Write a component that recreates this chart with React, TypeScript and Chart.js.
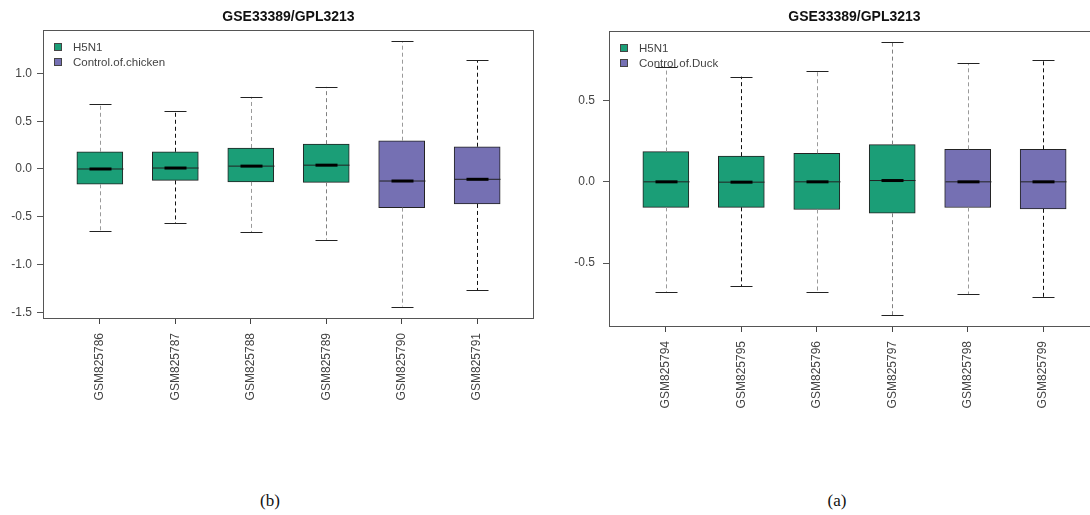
import React, { useEffect, useRef } from 'react';
import { Chart, registerables } from 'chart.js';

Chart.register(...registerables);

// ---------- data ----------
const TITLE = 'GSE33389/GPL3213';

const CHICKEN_SAMPLES = ['GSM825786', 'GSM825787', 'GSM825788', 'GSM825789', 'GSM825790', 'GSM825791'];
const CHICKEN_GROUP = [0, 0, 0, 0, 1, 1];
const CHICKEN_LOWER = [-0.65, -0.57, -0.66, -0.74, -1.44, -1.27];
const CHICKEN_Q1 = [-0.16, -0.12, -0.135, -0.14, -0.405, -0.366];
const CHICKEN_MEDIAN = [0.0, 0.01, 0.03, 0.04, -0.126, -0.108];
const CHICKEN_Q3 = [0.18, 0.18, 0.22, 0.26, 0.296, 0.233];
const CHICKEN_UPPER = [0.68, 0.61, 0.755, 0.86, 1.34, 1.14];
const CHICKEN_LEGEND = ['H5N1', 'Control.of.chicken'];
const CHICKEN_Y_TICKS = [-1.5, -1.0, -0.5, 0.0, 0.5, 1.0];

const DUCK_SAMPLES = ['GSM825794', 'GSM825795', 'GSM825796', 'GSM825797', 'GSM825798', 'GSM825799'];
const DUCK_GROUP = [0, 0, 0, 0, 1, 1];
const DUCK_LOWER = [-0.68, -0.642, -0.68, -0.822, -0.69, -0.709];
const DUCK_Q1 = [-0.157, -0.157, -0.17, -0.193, -0.158, -0.166];
const DUCK_MEDIAN = [0.0, -0.002, 0.0, 0.008, 0.0, 0.0];
const DUCK_Q3 = [0.186, 0.158, 0.176, 0.229, 0.2, 0.2];
const DUCK_UPPER = [0.707, 0.647, 0.684, 0.859, 0.731, 0.752];
const DUCK_LEGEND = ['H5N1', 'Control.of.Duck'];
const DUCK_Y_TICKS = [-0.5, 0.0, 0.5];

// ---------- styles ----------
const GROUP_COLORS = ['#1B9E77', '#7570B3'];
const WHISKER_COLORS = ['#9a9a9a', '#111111', '#9a9a9a', '#808080', '#9a9a9a', '#111111'];
const FONT = "'Liberation Sans', Arial, sans-serif";

type PanelProps = {
  samples: string[];
  group: number[];
  lower: number[];
  q1: number[];
  median: number[];
  q3: number[];
  upper: number[];
  legend: string[];
  yTicks: number[];
  yMin: number;
  yMax: number;
  canvasLeft: number;
  canvasWidth: number;
  yAxisWidth: number;
  padRight: number;
  padTop: number;
  axisHeight: number;
  yPad: number;
};

const CANVAS_H = 430;

function Panel(p: PanelProps) {
  const ref = useRef<HTMLCanvasElement | null>(null);

  useEffect(() => {
    if (!ref.current) return;
    const positions = p.samples.map((_, i) => i + 1);
    const n = p.samples.length;
    const xMin = 0.5 - 0.04 * n;
    const xMax = n + 0.5 + 0.04 * n;

    const datasets = p.legend.map((name, g) => ({
      label: name,
      data: p.samples
        .map((_, i) => (p.group[i] === g ? { x: i + 1, y: [p.q1[i], p.q3[i]] } : null))
        .filter((d) => d !== null),
      backgroundColor: GROUP_COLORS[g],
      borderColor: '#222',
      borderWidth: 1,
      borderSkipped: false,
      barThickness: 46,
      grouped: false,
    }));

    const boxPlugin = {
      id: 'boxExtras',
      afterDatasetsDraw(chart: any) {
        const ctx = chart.ctx;
        const xs = chart.scales.x;
        const ys = chart.scales.y;
        const area = chart.chartArea;
        ctx.save();
        for (let i = 0; i < n; i++) {
          const cx = Math.round(xs.getPixelForValue(i + 1)) + 0.5;
          const yU = ys.getPixelForValue(p.upper[i]);
          const yL = ys.getPixelForValue(p.lower[i]);
          const yQ1 = ys.getPixelForValue(p.q1[i]);
          const yQ3 = ys.getPixelForValue(p.q3[i]);
          const yM = ys.getPixelForValue(p.median[i]);
          // whiskers
          ctx.setLineDash([4, 3]);
          ctx.lineWidth = 1;
          ctx.strokeStyle = WHISKER_COLORS[i];
          ctx.beginPath();
          ctx.moveTo(cx, yQ3);
          ctx.lineTo(cx, yU);
          ctx.moveTo(cx, yQ1);
          ctx.lineTo(cx, yL);
          ctx.stroke();
          // caps
          ctx.setLineDash([]);
          ctx.strokeStyle = '#222';
          ctx.beginPath();
          ctx.moveTo(cx - 11, Math.round(yU) + 0.5);
          ctx.lineTo(cx + 11, Math.round(yU) + 0.5);
          ctx.moveTo(cx - 11, Math.round(yL) + 0.5);
          ctx.lineTo(cx + 11, Math.round(yL) + 0.5);
          ctx.stroke();
          // median
          ctx.strokeStyle = '#222';
          ctx.lineWidth = 1;
          ctx.beginPath();
          ctx.moveTo(cx - 23, yM);
          ctx.lineTo(cx + 23, yM);
          ctx.stroke();
          ctx.strokeStyle = '#000';
          ctx.lineWidth = 3;
          ctx.beginPath();
          ctx.moveTo(cx - 11, yM);
          ctx.lineTo(cx + 11, yM);
          ctx.stroke();
        }
        // frame
        ctx.lineWidth = 1;
        ctx.strokeStyle = '#555';
        const l = Math.round(area.left) - 0.5;
        const t = Math.round(area.top) + 0.5;
        const r = Math.round(area.right) + 0.5;
        const b = Math.round(area.bottom) + 0.5;
        ctx.strokeRect(l, t, r - l, b - t);
        // legend
        ctx.font = `11.5px ${FONT}`;
        ctx.textBaseline = 'middle';
        ctx.textAlign = 'left';
        p.legend.forEach((name, g) => {
          const sy = Math.round(area.top) + 13 + g * 15;
          ctx.fillStyle = GROUP_COLORS[g];
          ctx.fillRect(Math.round(area.left) + 10, sy, 8, 8);
          ctx.strokeStyle = '#444';
          ctx.strokeRect(Math.round(area.left) + 10.5, sy + 0.5, 7, 7);
          ctx.fillStyle = '#444';
          ctx.fillText(name, Math.round(area.left) + 29, sy + 4.5);
        });
        // title, centred over the plotting region
        ctx.font = `bold 14px ${FONT}`;
        ctx.fillStyle = '#111';
        ctx.textAlign = 'center';
        ctx.textBaseline = 'middle';
        ctx.fillText(TITLE, (area.left + area.right) / 2, 17);
        ctx.restore();
      },
    };

    const chart = new Chart(ref.current, {
      type: 'bar',
      data: { datasets: datasets as any },
      options: {
        animation: false,
        responsive: false,
        devicePixelRatio: 1,
        layout: { padding: { left: 0, right: p.padRight, top: p.padTop, bottom: 0 } },
        plugins: {
          legend: { display: false },
          tooltip: { enabled: false },
          title: { display: false },
        },
        scales: {
          x: {
            type: 'linear',
            offset: false,
            min: xMin,
            max: xMax,
            afterBuildTicks: (s: any) => {
              s.ticks = positions.map((v) => ({ value: v }));
            },
            afterFit: (s: any) => {
              s.height = p.axisHeight;
            },
            grid: { offset: false, drawOnChartArea: false, drawTicks: true, tickLength: 6, color: '#444' },
            border: { display: false },
            ticks: {
              autoSkip: false,
              minRotation: 90,
              maxRotation: 90,
              padding: 9,
              color: '#444',
              font: { family: FONT, size: 12 },
              callback: (v: any) => p.samples[Math.round(Number(v)) - 1] ?? '',
            },
          },
          y: {
            type: 'linear',
            min: p.yMin,
            max: p.yMax,
            afterBuildTicks: (s: any) => {
              s.ticks = p.yTicks.map((v) => ({ value: v }));
            },
            afterFit: (s: any) => {
              s.width = p.yAxisWidth;
            },
            grid: { drawOnChartArea: false, drawTicks: true, tickLength: 7, color: '#555' },
            border: { display: false },
            ticks: {
              padding: p.yPad,
              color: '#444',
              font: { family: FONT, size: 12 },
              callback: (v: any) => Number(v).toFixed(1),
            },
          },
        },
      } as any,
      plugins: [boxPlugin],
    });
    return () => chart.destroy();
  }, []);

  return (
    <div style={{ position: 'absolute', left: p.canvasLeft, top: 0, width: p.canvasWidth, height: CANVAS_H }}>
      <canvas
        ref={ref}
        width={p.canvasWidth}
        height={CANVAS_H}
        style={{ width: p.canvasWidth, height: CANVAS_H, display: 'block' }}
      />
    </div>
  );
}

export default function App() {
  const capStyle: React.CSSProperties = {
    position: 'absolute',
    top: 491,
    width: 100,
    textAlign: 'center',
    fontFamily: "'Liberation Serif', 'Times New Roman', serif",
    fontSize: 17,
    lineHeight: '20px',
    color: '#111',
  };
  return (
    <div
      style={{
        position: 'fixed',
        left: 0,
        top: 0,
        width: 1090,
        height: 515,
        overflow: 'hidden',
        background: '#fff',
      }}
    >
      <Panel
        samples={CHICKEN_SAMPLES}
        group={CHICKEN_GROUP}
        lower={CHICKEN_LOWER}
        q1={CHICKEN_Q1}
        median={CHICKEN_MEDIAN}
        q3={CHICKEN_Q3}
        upper={CHICKEN_UPPER}
        legend={CHICKEN_LEGEND}
        yTicks={CHICKEN_Y_TICKS}
        yMin={-1.56}
        yMax={1.455}
        canvasLeft={0}
        canvasWidth={545}
        yAxisWidth={44}
        padRight={12}
        padTop={30}
        axisHeight={CANVAS_H - 318}
        yPad={5}
      />
      <Panel
        samples={DUCK_SAMPLES}
        group={DUCK_GROUP}
        lower={DUCK_LOWER}
        q1={DUCK_Q1}
        median={DUCK_MEDIAN}
        q3={DUCK_Q3}
        upper={DUCK_UPPER}
        legend={DUCK_LEGEND}
        yTicks={DUCK_Y_TICKS}
        yMin={-0.887}
        yMax={0.928}
        canvasLeft={545}
        canvasWidth={560}
        yAxisWidth={65}
        padRight={6}
        padTop={31}
        axisHeight={CANVAS_H - 326}
        yPad={8}
      />
      <div style={{ ...capStyle, left: 220 }}>(b)</div>
      <div style={{ ...capStyle, left: 787 }}>(a)</div>
    </div>
  );
}
